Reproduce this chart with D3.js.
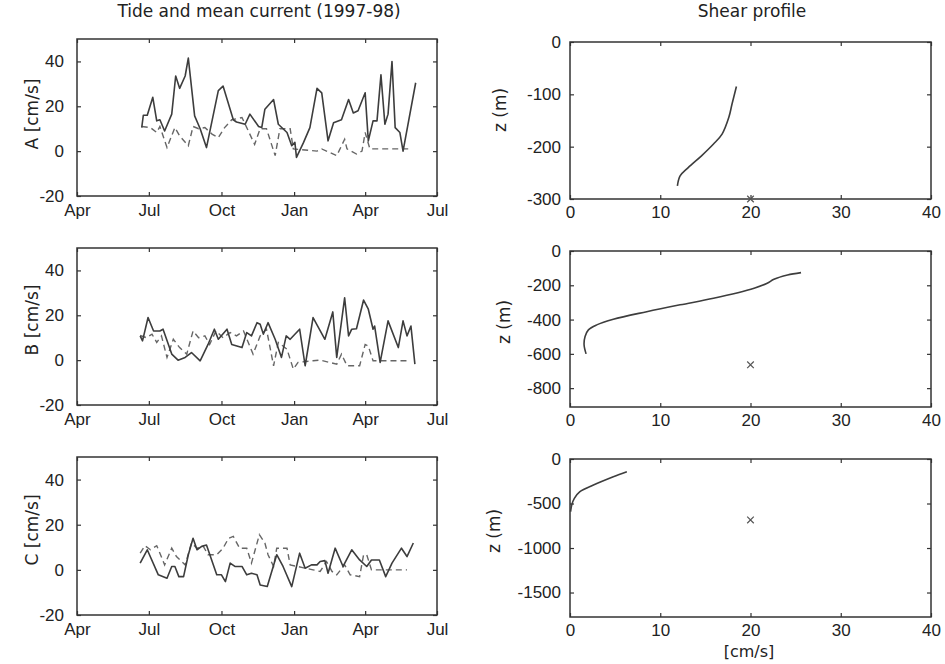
<!DOCTYPE html>
<html>
<head>
<meta charset="utf-8">
<script src="https://cdn.jsdelivr.net/npm/d3@7"></script>
<style>
  html, body { margin: 0; padding: 0; background: #fff; }
  svg { display: block; font-family: "DejaVu Sans", "Liberation Sans", Arial, sans-serif; }
  .axis path { display: none; }
  .axis line { stroke: #333; stroke-width: 1.2; }
  .axis text { fill: #222; font-size: 17px; }
</style>
</head>
<body>
<svg id="fig" width="945" height="664"></svg>
<script>
// ---- Time series: day number counted from 1 Jan 1997, speed in cm/s ----
// Station A
const dayA_tide = [172,174,179,186,191,195,201,210,215,220,227,231,239,246,254,269,275,288,292,303,309,320,324,328,339,345,356,362,366,368,377,385,394,400,408,415,425,434,440,446,455,459,465,470,475,480,484,489,493,499,503,519];
const tideA     = [10.5,16,16,24,13.5,14,9,16.5,33.5,28,33.5,41.5,15.7,10,1.6,27,29,14,13,12,16.5,11,10.5,18.7,23,12,8.3,2.4,3.9,-2.8,3.9,10.5,28,26,4.6,12.7,14,23,17,18,26,4.6,13.5,13.5,34,12,16.5,40,10.5,8.3,0,30.5];
const dayA_mean = [172,183,191,195,204,214,220,231,237,244,252,261,269,277,286,299,315,322,330,341,347,360,364,394,400,419,429,432,444,451,455,461,491,512];
const meanA     = [11,10.5,8.3,11,1.6,10.5,6.8,2.4,11,10,10.5,7.6,6,10.5,14,15,3,10,10,-2,10,10,1,0,1,-2,5.3,1,-1.3,0,8.3,1,1,1];

// Station B
const dayB_tide = [170,173,180,187,195,199,210,218,227,235,246,256,264,269,280,286,299,305,311,318,322,326,332,341,349,355,360,372,379,389,404,414,419,429,434,438,444,453,459,465,467,474,484,497,503,508,513,518];
const tideB     = [10.8,8.6,19,13,13,13.8,2.7,0,1.2,3.4,-0.3,7,13.8,9.3,13.8,7,5.6,12.3,10.8,16.7,16,11.6,16.7,9.3,1.2,10.8,9.3,13.8,-2.5,19,9.3,21.5,1.2,27.8,10.8,13.8,14,26.8,22.7,13.8,15.2,-1,17.5,5.6,17.5,10.8,15.2,-1.8];
const dayB_mean = [170,178,185,191,197,204,212,220,229,237,244,252,258,266,275,284,292,301,313,322,330,339,345,356,364,370,389,398,419,425,432,448,455,459,465,512];
const meanB     = [11,10,11.6,7.9,10.8,1.2,9.3,5.6,2.7,13,10,10.8,7,13,10,12.3,10.8,13,2.7,10.8,13.8,-2.5,7.9,4.9,-4,-1,-0.3,0,-1.8,2.7,-2.5,-2.5,7,6.3,-0.3,-0.3];

// Station C
const dayC_tide = [170,179,193,204,210,214,219,225,231,237,242,248,254,267,273,278,284,290,299,305,311,318,322,331,343,351,362,372,379,387,394,398,404,408,417,427,438,448,457,463,473,481,489,501,508,516];
const tideC     = [3,8.9,-2.2,-3.7,1.5,1.5,-3,-3,6.7,14,8.9,10.4,11,-2.2,-2.2,-5.2,3,1.5,1.5,-2.2,-1.5,-2.2,-6.7,-7.4,6.7,1.5,-7.4,7.4,0.7,2.2,2.2,3.7,4.1,-1.5,9.6,1.5,8.9,4.4,1.5,4.4,4.4,-3,3,9.6,5.9,11.9];
const dayC_mean = [170,176,183,191,195,201,210,216,227,235,242,250,256,267,275,282,288,296,305,311,321,328,332,339,343,356,360,389,398,406,413,419,429,436,448,453,457,463,508];
const meanC     = [7.4,10.7,8.9,10.7,7.4,2.2,9.6,5.9,2.2,11.9,9.6,10.4,6.7,6.7,9.6,14,14.8,9.6,9.6,3,15.6,11.9,6.7,1.5,9.6,9.6,2.2,0,-0.7,3.7,-0.7,-2.2,2.2,-2.2,-3,6.7,6.7,0,0];

const stationNames = ["A", "B", "C"];
const monthTicks = ["1997-04-01","1997-07-01","1997-10-01","1998-01-01","1998-04-01","1998-07-01"];
const speedTicks = [-20, 0, 20, 40];

// ---- Shear profiles: speed (cm/s) against depth z (m) ----
const profA_u = [18.44,17.96,17.6,16.85,15.9,14.6,13.1,12.2,11.9];
const profA_z = [-85,-118,-144,-176,-195,-217,-240,-256,-275];
const profB_u = [25.6,24.1,22.6,21.85,20.4,15.9,12.2,8.5,4.8,2.96,2.04,1.67,1.56,1.78];
const profB_z = [-126,-140,-165,-188,-217,-276,-314,-354,-398,-431,-460,-499,-547,-600];
const profC_u = [6.3,4.8,2.6,1.1,0.48,0.19,0.07];
const profC_z = [-142,-199,-292,-367,-442,-517,-592];
// single reference point plotted as a cross
const crossU = [20, 20, 20];
const crossZ = [-300, -664, -685];
const depthLimits = [-300, -910, -1775];
const depthTicks = [[0,-100,-200,-300],[0,-200,-400,-600,-800],[0,-500,-1000,-1500]];
const shearTicks = [0,10,20,30,40];

// ---- layout ----
const svg = d3.select("#fig");
const leftX = [77, 437], rightX = [570, 931];
const rows = [[39, 196], [248, 405], [457, 615]];
const rightRows = [[42, 199], [251, 407], [459, 617]];
const plain = d => String(d);   // hyphen minus, no thousands separator

const t0 = Date.UTC(1997, 0, 1);
const toDate = d => new Date(t0 + d * 864e5);
const x = d3.scaleUtc()
  .domain([new Date("1997-04-01T00:00:00Z"), new Date("1998-07-01T00:00:00Z")])
  .range(leftX);

const tideSets = [[dayA_tide, tideA], [dayB_tide, tideB], [dayC_tide, tideC]];
const meanSets = [[dayA_mean, meanA], [dayB_mean, meanB], [dayC_mean, meanC]];
const profSets = [[profA_u, profA_z], [profB_u, profB_z], [profC_u, profC_z]];

function frame(g, x0, x1, y0, y1) {
  g.append("rect").attr("x", x0).attr("y", y0)
    .attr("width", x1 - x0).attr("height", y1 - y0)
    .attr("fill", "none").attr("stroke", "#333").attr("stroke-width", 1.5);
}

function label(txt, tx, ty, rot) {
  svg.append("text")
    .attr("transform", `translate(${tx},${ty})` + (rot ? " rotate(-90)" : ""))
    .attr("text-anchor", "middle").attr("font-size", 17).attr("fill", "#222")
    .text(txt);
}

const leftLabelY = [114, 320, 530];
rows.forEach(([top, bot], i) => {
  const g = svg.append("g");
  const y = d3.scaleLinear().domain([-20, 50]).range([bot, top]);
  const mTicks = monthTicks.map(s => new Date(s + "T00:00:00Z"));

  // ticks point inward on all four sides
  g.append("g").attr("class", "axis").attr("transform", `translate(0,${bot})`)
    .call(d3.axisBottom(x).tickValues(mTicks).tickFormat(d3.utcFormat("%b"))
      .tickSizeInner(-4).tickSizeOuter(0).tickPadding(8));
  g.append("g").attr("class", "axis").attr("transform", `translate(0,${top})`)
    .call(d3.axisTop(x).tickValues(mTicks).tickFormat("").tickSizeInner(-4).tickSizeOuter(0));
  g.append("g").attr("class", "axis").attr("transform", `translate(${leftX[0]},0)`)
    .call(d3.axisLeft(y).tickValues(speedTicks).tickFormat(plain)
      .tickSizeInner(-4).tickSizeOuter(0).tickPadding(13));
  g.append("g").attr("class", "axis").attr("transform", `translate(${leftX[1]},0)`)
    .call(d3.axisRight(y).tickValues(speedTicks).tickFormat("").tickSizeInner(-4).tickSizeOuter(0));
  frame(g, leftX[0], leftX[1], top, bot);

  const line = d3.line().x(d => x(toDate(d[0]))).y(d => y(d[1]));
  const [md, mv] = meanSets[i];
  g.append("path").datum(md.map((d, k) => [d, mv[k]]))
    .attr("d", line).attr("fill", "none").attr("stroke", "#666")
    .attr("stroke-width", 1.4).attr("stroke-dasharray", "6,4");
  const [td, tv] = tideSets[i];
  g.append("path").datum(td.map((d, k) => [d, tv[k]]))
    .attr("d", line).attr("fill", "none").attr("stroke", "#3d3d3d")
    .attr("stroke-width", 1.6).attr("stroke-linejoin", "round");

  label(`${stationNames[i]} [cm/s]`, 38, leftLabelY[i], true);
});

const zLabelX = [506, 510, 500], zLabelY = [110, 322, 531];
rightRows.forEach(([top, bot], i) => {
  const g = svg.append("g");
  const u = d3.scaleLinear().domain([0, 40]).range(rightX);
  const z = d3.scaleLinear().domain([depthLimits[i], 0]).range([bot, top]);

  g.append("g").attr("class", "axis").attr("transform", `translate(0,${bot})`)
    .call(d3.axisBottom(u).tickValues(shearTicks).tickFormat(plain)
      .tickSizeInner(-4).tickSizeOuter(0).tickPadding(7));
  g.append("g").attr("class", "axis").attr("transform", `translate(0,${top})`)
    .call(d3.axisTop(u).tickValues(shearTicks).tickFormat("").tickSizeInner(-4).tickSizeOuter(0));
  g.append("g").attr("class", "axis").attr("transform", `translate(${rightX[0]},0)`)
    .call(d3.axisLeft(z).tickValues(depthTicks[i]).tickFormat(plain)
      .tickSizeInner(-4).tickSizeOuter(0).tickPadding(9));
  g.append("g").attr("class", "axis").attr("transform", `translate(${rightX[1]},0)`)
    .call(d3.axisRight(z).tickValues(depthTicks[i]).tickFormat("").tickSizeInner(-4).tickSizeOuter(0));
  frame(g, rightX[0], rightX[1], top, bot);

  const [pu, pz] = profSets[i];
  g.append("path").datum(pu.map((d, k) => [d, pz[k]]))
    .attr("d", d3.line().curve(d3.curveCatmullRom).x(d => u(d[0])).y(d => z(d[1])))
    .attr("fill", "none").attr("stroke", "#3d3d3d").attr("stroke-width", 1.6);

  g.append("path")
    .attr("d", d3.symbol(d3.symbolX, 30)())
    .attr("transform", `translate(${u(crossU[i])},${z(crossZ[i])})`)
    .attr("fill", "none").attr("stroke", "#555").attr("stroke-width", 1.2);

  label("z (m)", zLabelX[i], zLabelY[i], true);
});

label("Tide and mean current (1997-98)", 259, 17, false);
label("Shear profile", 752, 17, false);
svg.append("text").attr("x", 749).attr("y", 657).attr("text-anchor", "middle")
  .attr("font-size", 16).attr("fill", "#222").text("[cm/s]");
</script>
</body>
</html>
